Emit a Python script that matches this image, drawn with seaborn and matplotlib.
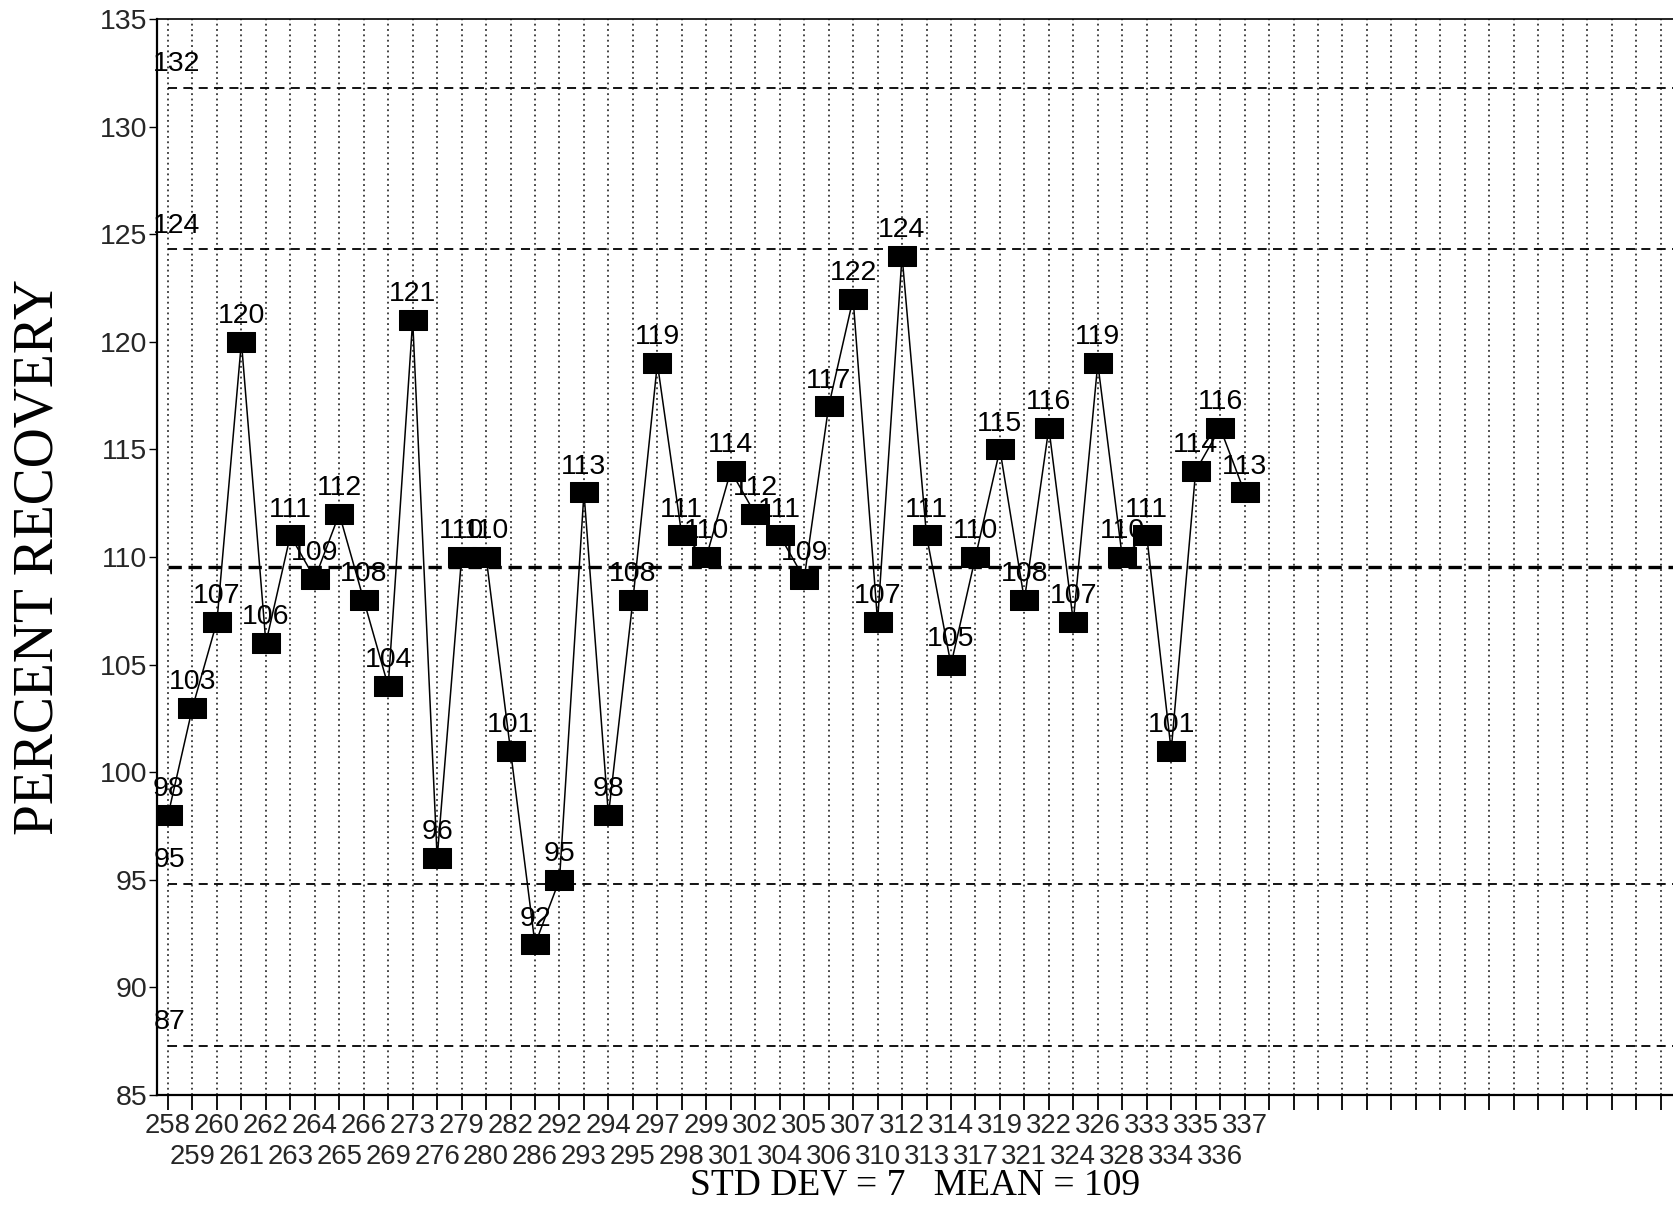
import numpy as np
import pandas as pd
import matplotlib
matplotlib.use("Agg")
import matplotlib.pyplot as plt
from matplotlib.path import Path
import seaborn as sns

# Sample numbers (x categories) and measured percent recovery
sample_ids = ["258", "259", "260", "261", "262", "263", "264", "265", "266", "269",
              "273", "276", "279", "280", "282", "286", "292", "293", "294", "295",
              "297", "298", "299", "301", "302", "304", "305", "306", "307", "310",
              "312", "313", "314", "317", "319", "321", "322", "324", "326", "328",
              "333", "334", "335", "336", "337"]
recovery = [98, 103, 107, 120, 106, 111, 109, 112, 108, 104,
            121, 96, 110, 110, 101, 92, 95, 113, 98, 108,
            119, 111, 110, 114, 112, 111, 109, 117, 122, 107,
            124, 111, 105, 110, 115, 108, 116, 107, 119, 110,
            111, 101, 114, 116, 113]

# Control chart reference lines
center_line = 109.55
limit_values = [131.8, 124.3, 94.8, 87.3]
limit_labels = ["132", "124", "95", "87"]

y_ticks = [85, 90, 95, 100, 105, 110, 115, 120, 125, 130, 135]
n_slots = 62          # tick positions available on the x axis
std_text = "STD DEV = 7   MEAN = 109"

df = pd.DataFrame({"pos": np.arange(len(recovery)), "recovery": recovery})

sns.set_theme(style="white")
plt.rcParams["font.family"] = ["Liberation Sans", "DejaVu Sans"]
plt.rcParams["axes.edgecolor"] = "black"

fig = plt.figure(figsize=(16.74, 12.16), dpi=100)
ax = fig.add_axes([157 / 1674, 1 - 1095 / 1216, 1517 / 1674, 1076 / 1216])

# wide rectangular marker
rect = Path([(-1.3, -1.0), (1.3, -1.0), (1.3, 1.0), (-1.3, 1.0), (-1.3, -1.0)],
            [Path.MOVETO, Path.LINETO, Path.LINETO, Path.LINETO, Path.CLOSEPOLY])

# vertical dotted grid at every slot
for xs in range(n_slots):
    ax.axvline(xs, color="#111111", lw=1.1, linestyle=(0, (1.2, 2.3)), zorder=0)

# control limits and centre line
for v in limit_values:
    ax.plot([0, n_slots + 1], [v, v], color="black", lw=1.3,
            linestyle=(0, (5, 3.5)), zorder=1)
ax.plot([0, n_slots + 1], [center_line, center_line], color="black", lw=2.4,
        linestyle=(0, (4, 2)), zorder=1)

for v, lab in zip(limit_values, limit_labels):
    ax.text(-0.6, v + 1.1, lab, ha="left", va="center", fontsize=20.5,
            color="black", clip_on=False, zorder=4)

sns.lineplot(data=df, x="pos", y="recovery", ax=ax, color="black", lw=1.1,
             sort=False, marker=rect, markersize=19.5, markerfacecolor="black",
             markeredgecolor="black", zorder=3)

for i, v in enumerate(recovery):
    ax.text(i, v + 1.2, str(v), ha="center", va="center", fontsize=20.5,
            color="black", zorder=5)

ax.set_xlim(-0.45, 61.55)
ax.set_ylim(85, 135)
ax.set_yticks(y_ticks)
ax.set_yticklabels([str(t) for t in y_ticks], fontsize=20.5)

# sample numbers alternate between two label rows:
# even slots on major ticks, odd slots on minor ticks pushed further down
even_slots = list(range(0, n_slots, 2))
odd_slots = list(range(1, n_slots, 2))
ax.set_xticks(even_slots)
ax.set_xticklabels([sample_ids[i] if i < len(sample_ids) else "" for i in even_slots],
                   fontsize=19.8)
ax.set_xticks(odd_slots, minor=True)
ax.set_xticklabels([sample_ids[i] if i < len(sample_ids) else "" for i in odd_slots],
                   minor=True, fontsize=19.8)

ax.tick_params(axis="x", which="both", direction="out", length=11, width=1.3,
               color="black", bottom=True)
ax.tick_params(axis="x", which="major", pad=2)
ax.tick_params(axis="x", which="minor", pad=24)
ax.tick_params(axis="y", direction="out", length=6, width=1.0, color="black",
               pad=1, left=True)
ax.grid(False)

for side in ["left", "bottom", "top"]:
    ax.spines[side].set_visible(True)
    ax.spines[side].set_color("black")
ax.spines["left"].set_linewidth(1.6)
ax.spines["bottom"].set_linewidth(1.6)
ax.spines["top"].set_linewidth(1.2)
ax.spines["right"].set_visible(False)

ax.set_ylabel("PERCENT RECOVERY", fontsize=40, family="Liberation Serif",
              color="black")
ax.yaxis.label.set_va("center")
ax.yaxis.set_label_coords(-0.078, 0.5)
ax.set_xlabel(std_text, fontsize=27, family="Liberation Serif", color="black")
ax.xaxis.label.set_va("center")
ax.xaxis.set_label_coords(0.5, -0.084)

fig.savefig("out.png", dpi=100, facecolor="white")
